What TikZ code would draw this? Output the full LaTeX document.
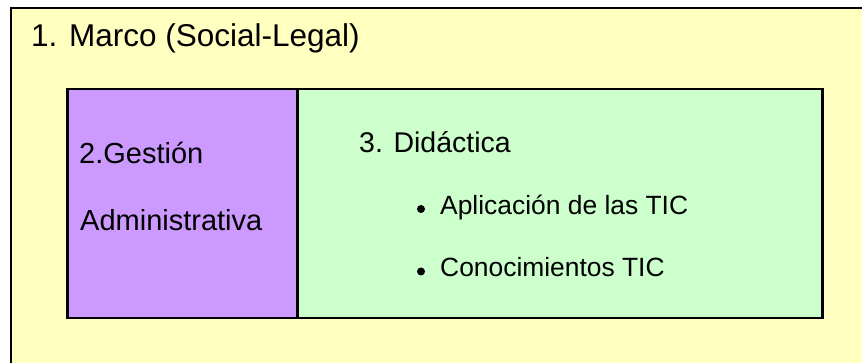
\documentclass[tikz,border=0pt]{standalone}
\usepackage{fontspec}
\setmainfont{Liberation Sans}
\definecolor{marcoyellow}{RGB}{255,255,192}
\definecolor{gestionpurple}{RGB}{204,153,255}
\definecolor{didacticagreen}{RGB}{204,255,204}
\begin{document}
\begin{tikzpicture}[x=1pt,y=1pt,
  lbl/.style={anchor=base west,inner sep=0pt,font=\fontsize{29}{34}\selectfont},
  didlbl/.style={anchor=base west,inner sep=0pt,font=\fontsize{28.5}{34}\selectfont},
  bulletlbl/.style={anchor=base west,inner sep=0pt,font=\fontsize{26.4}{32}\selectfont},
  titlelbl/.style={anchor=base west,inner sep=0pt,font=\fontsize{31.5}{38}\selectfont},
  panel/.style={draw=black,line width=2.5pt,inner sep=0pt,anchor=north west},
  dot/.style={circle,fill=black,inner sep=0pt,minimum size=8pt}]
\useasboundingbox (0,0) rectangle (862,-363);
\fill[white] (0,0) rectangle (862,-363);
% outer frame (extends past right and bottom edges)
\fill[marcoyellow] (11,-8) rectangle (862,-363);
\draw[line width=2pt,black] (11,-363) -- (11,-8) -- (862,-8);
\node[titlelbl] (marco) at (31,-47) {1. Marco (Social-Legal)};
% inner panels
\node[panel,fill=gestionpurple,minimum width=230pt,minimum height=229pt] (gestion) at (66,-88) {};
\node[panel,fill=didacticagreen,minimum width=525pt,minimum height=229pt] (didactica) at (296,-88) {};
\node[lbl] (g1) at (79,-164) {2.Gestión};
\node[lbl] (g2) at (80,-231) {Administrativa};
\node[didlbl] (d0) at (359,-153) {3. Didáctica};
\node[dot] (b1) at (421,-209) {};
\node[bulletlbl] (d1) at (440,-215) {Aplicación de las TIC};
\node[dot] (b2) at (421,-271.5) {};
\node[bulletlbl] (d2) at (440,-277) {Conocimientos TIC};
\end{tikzpicture}
\end{document}
